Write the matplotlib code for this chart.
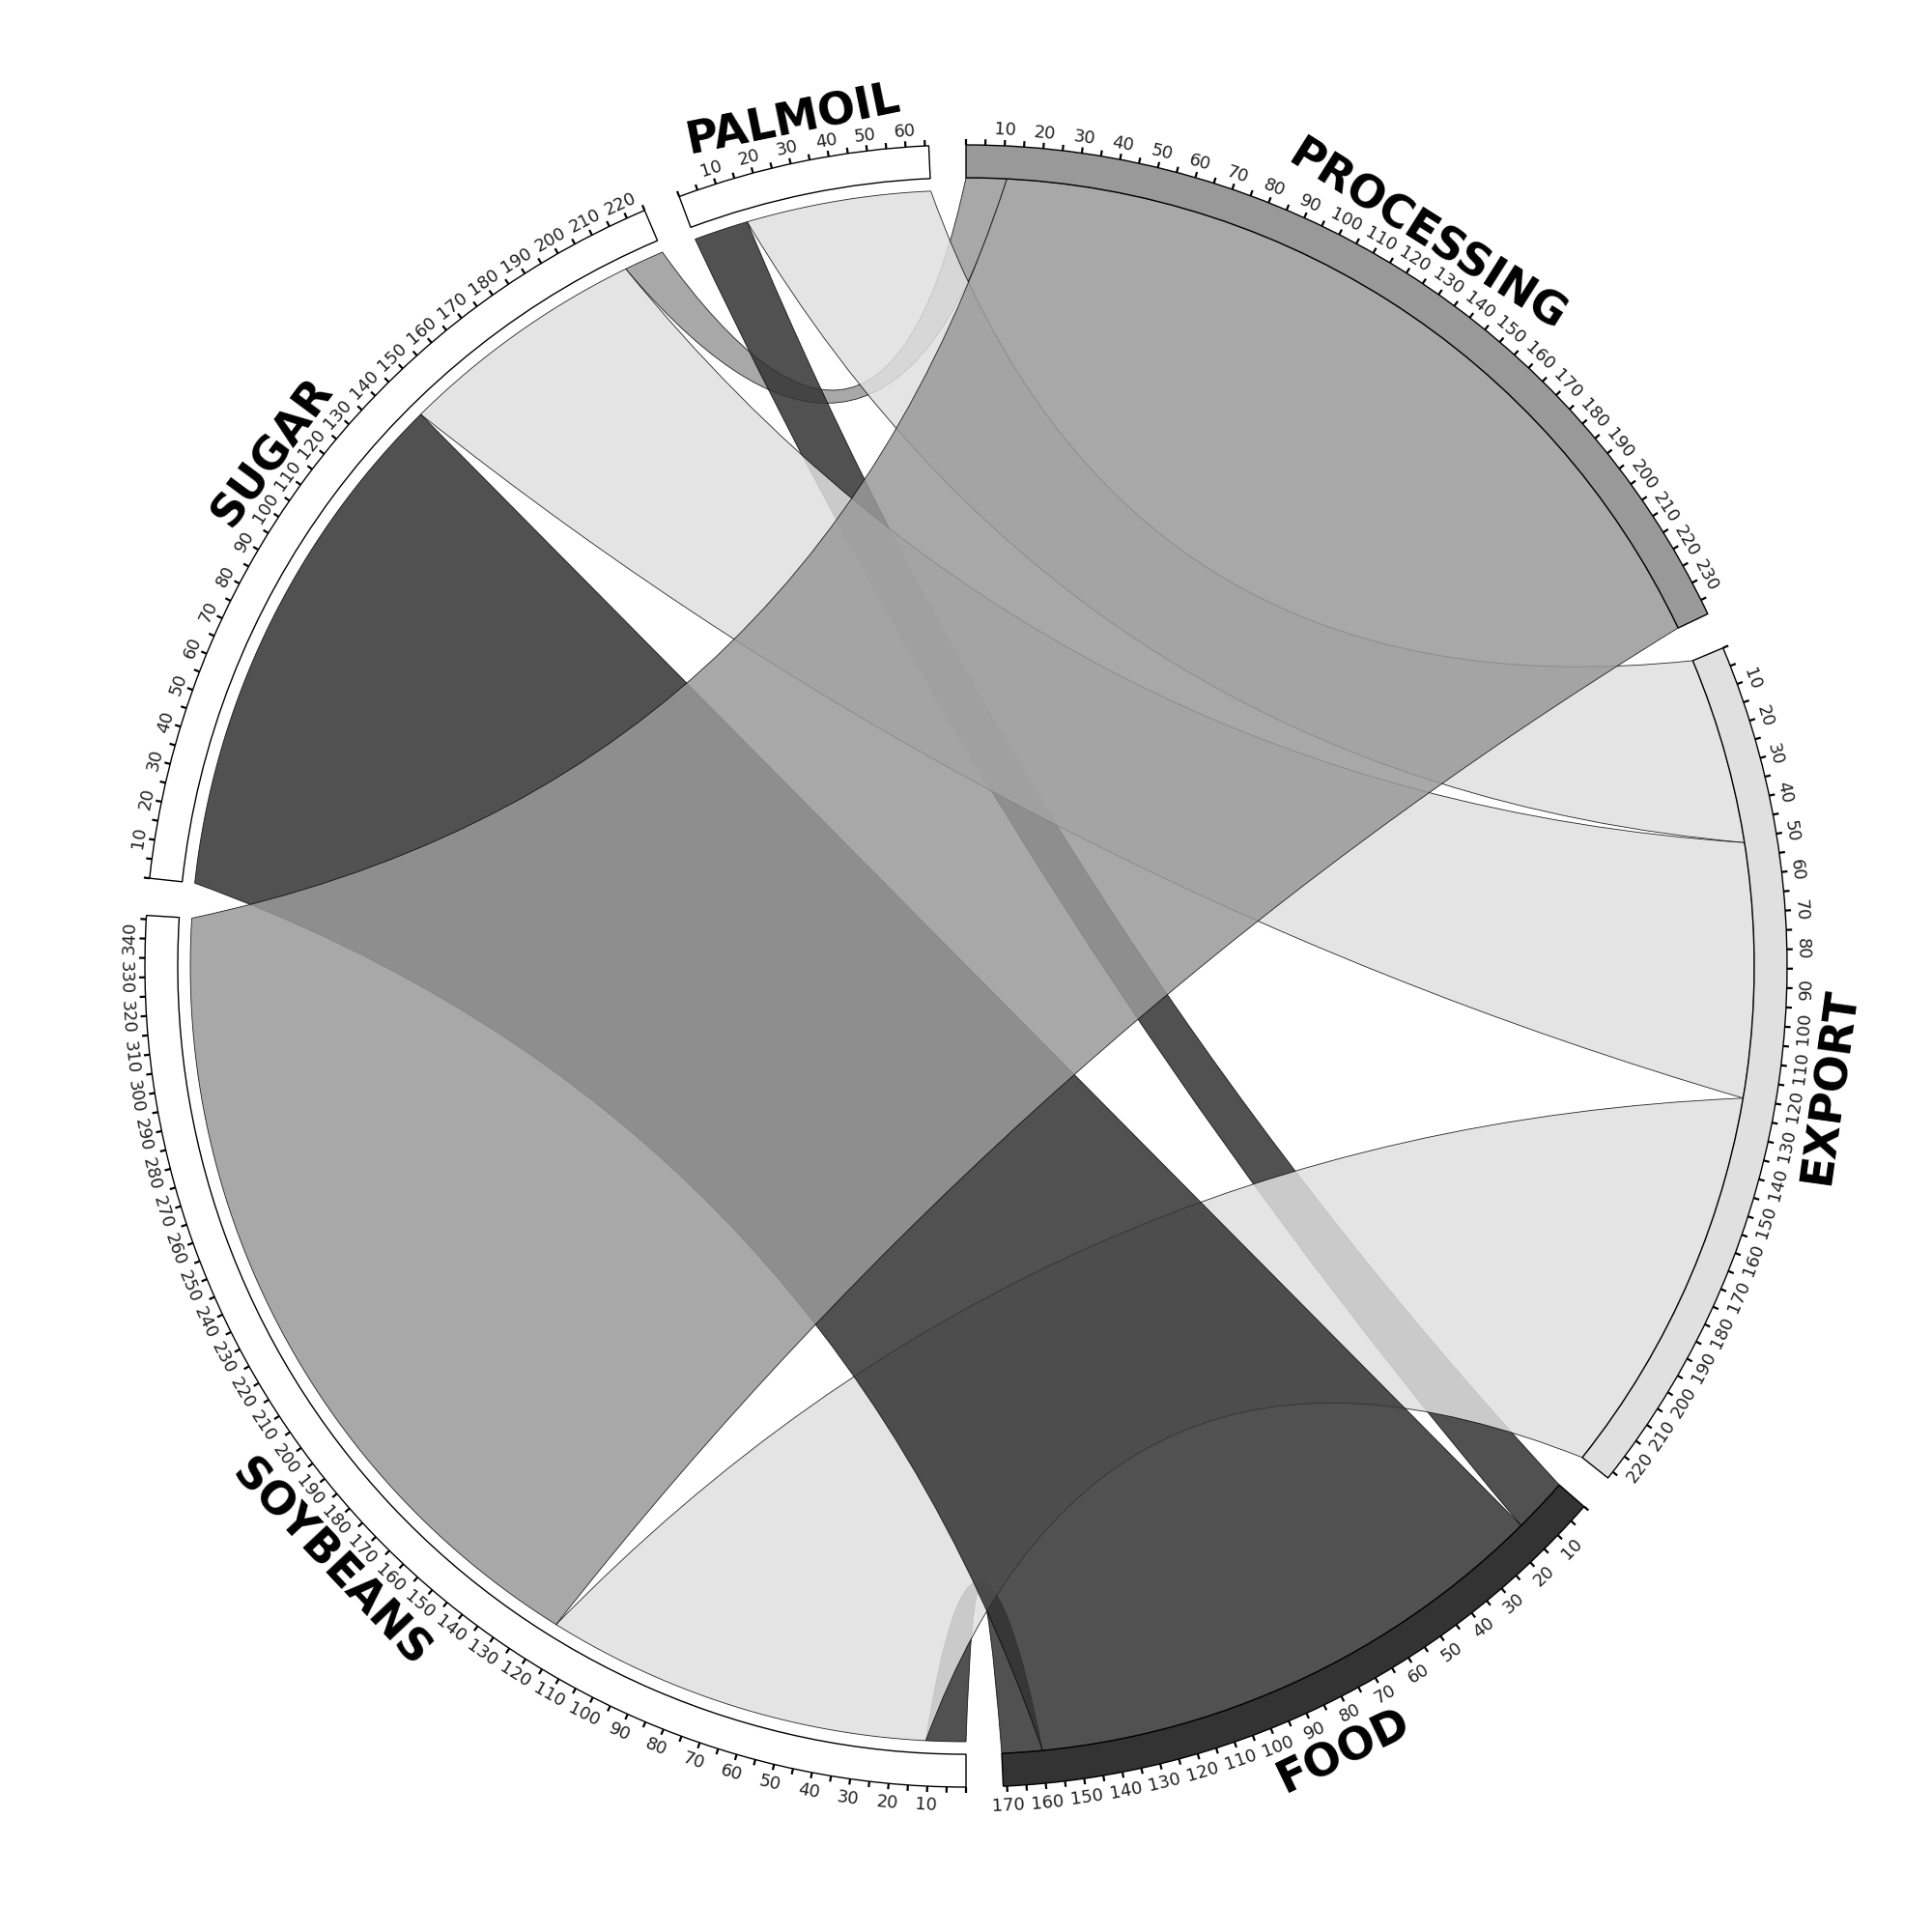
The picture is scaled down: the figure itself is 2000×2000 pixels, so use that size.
import numpy as np
import matplotlib.pyplot as plt
from matplotlib.path import Path
from matplotlib.patches import PathPatch, Wedge

# flows from the source sectors to the target sectors
sources = ['PALMOIL', 'SOYBEANS', 'SUGAR']
targets = ['PROCESSING', 'EXPORT', 'FOOD']
flows = [[0, 51, 15],
         [228, 107, 11],
         [11, 69, 145]]

# clockwise order of the sectors, starting at 12 o'clock
sector_order = ['PROCESSING', 'EXPORT', 'FOOD', 'SOYBEANS', 'SUGAR', 'PALMOIL']
# order of the links inside a sector (clockwise)
src_link_order = ['FOOD', 'EXPORT', 'PROCESSING']
tgt_link_order = ['PALMOIL', 'SUGAR', 'SOYBEANS']

target_colors = {'PROCESSING': '#999999', 'EXPORT': '#e0e0e0', 'FOOD': '#333333'}

GAP = 2.6
R_OUT = 850
R_IN = 816
R_SRC = 803
C0 = 490

sizes = {}
for i, s in enumerate(sources):
    sizes[s] = sum(flows[i])
for j, t in enumerate(targets):
    sizes[t] = sum(row[j] for row in flows)
total = sum(sizes.values())
deg_per = (360 - GAP * len(sector_order)) / total

start = {}
a = 0.0
for name in sector_order:
    start[name] = a
    a += sizes[name] * deg_per + GAP


def xy(theta, r):
    t = np.radians(theta)
    return (r * np.sin(t), r * np.cos(t))


def ctrl(p, q):
    # control point of the chord edge, pulled in less for far apart ends
    delta = ((q - p + 180) % 360) - 180
    mid = p + delta / 2
    c = C0 * (1 - abs(delta) / 180)
    return xy(mid, c)


def arc_pts(t1, t2, r, n=80):
    return [xy(t, r) for t in np.linspace(t1, t2, n)]


# link end positions
src_arcs = {}
for i, s in enumerate(sources):
    pos = start[s]
    for t in src_link_order:
        v = flows[i][targets.index(t)]
        if v > 0:
            src_arcs[(s, t)] = (pos, pos + v * deg_per)
            pos += v * deg_per

tgt_arcs = {}
for j, t in enumerate(targets):
    pos = start[t]
    for s in tgt_link_order:
        v = flows[sources.index(s)][j]
        if v > 0:
            tgt_arcs[(s, t)] = (pos, pos + v * deg_per)
            pos += v * deg_per

fig = plt.figure(figsize=(20, 20), dpi=100)
ax = fig.add_axes([0, 0, 1, 1])
ax.set_xlim(-1000, 1000)
ax.set_ylim(-1000, 1000)
ax.set_aspect('equal')
ax.axis('off')

# links, small ones first
links = []
for i, s in enumerate(sources):
    for j, t in enumerate(targets):
        if flows[i][j] > 0:
            links.append((flows[i][j], s, t))
links.sort()

for v, s, t in links:
    a1, a2 = src_arcs[(s, t)]
    b1, b2 = tgt_arcs[(s, t)]
    verts = arc_pts(a1, a2, R_SRC)
    codes = [Path.MOVETO] + [Path.LINETO] * (len(verts) - 1)
    verts += [ctrl(a2, b1), xy(b1, R_IN)]
    codes += [Path.CURVE3, Path.CURVE3]
    pts = arc_pts(b1, b2, R_IN)[1:]
    verts += pts
    codes += [Path.LINETO] * len(pts)
    verts += [ctrl(b2, a1), xy(a1, R_SRC)]
    codes += [Path.CURVE3, Path.CURVE3]
    verts.append(xy(a1, R_SRC))
    codes.append(Path.CLOSEPOLY)
    patch = PathPatch(Path(verts, codes), facecolor=target_colors[t],
                      edgecolor='black', lw=0.6, alpha=0.85, zorder=2)
    ax.add_patch(patch)


def text_rot(theta):
    rot = -theta
    th = theta % 360
    if 90 < th < 270:
        rot += 180
    return rot


# sector bars, ticks and labels
for name in sector_order:
    s0 = start[name]
    s1 = s0 + sizes[name] * deg_per
    fc = target_colors.get(name, 'white')
    w = Wedge((0, 0), R_OUT, 90 - s1, 90 - s0, width=R_OUT - R_IN,
              facecolor=fc, edgecolor='black', lw=1.0, zorder=3)
    ax.add_patch(w)
    for v in range(0, int(sizes[name]) + 1, 5):
        th = s0 + v * deg_per
        x0, y0 = xy(th, R_OUT)
        x1, y1 = xy(th, R_OUT + 6)
        ax.plot([x0, x1], [y0, y1], color='black', lw=1.6,
                solid_capstyle='butt', zorder=4)
        if v > 0 and v % 10 == 0:
            tx, ty = xy(th, R_OUT + 18)
            ax.text(tx, ty, str(v), fontsize=13, color='#222222',
                    rotation=text_rot(th), rotation_mode='anchor',
                    ha='center', va='center_baseline', zorder=4)
    mid = (s0 + s1) / 2
    nx, ny = xy(mid, 898)
    ax.text(nx, ny, name, fontsize=33, fontweight='bold', color='black',
            rotation=text_rot(mid), rotation_mode='anchor',
            ha='center', va='center_baseline', zorder=4)

fig.savefig('out.png', dpi=100, facecolor='white')
